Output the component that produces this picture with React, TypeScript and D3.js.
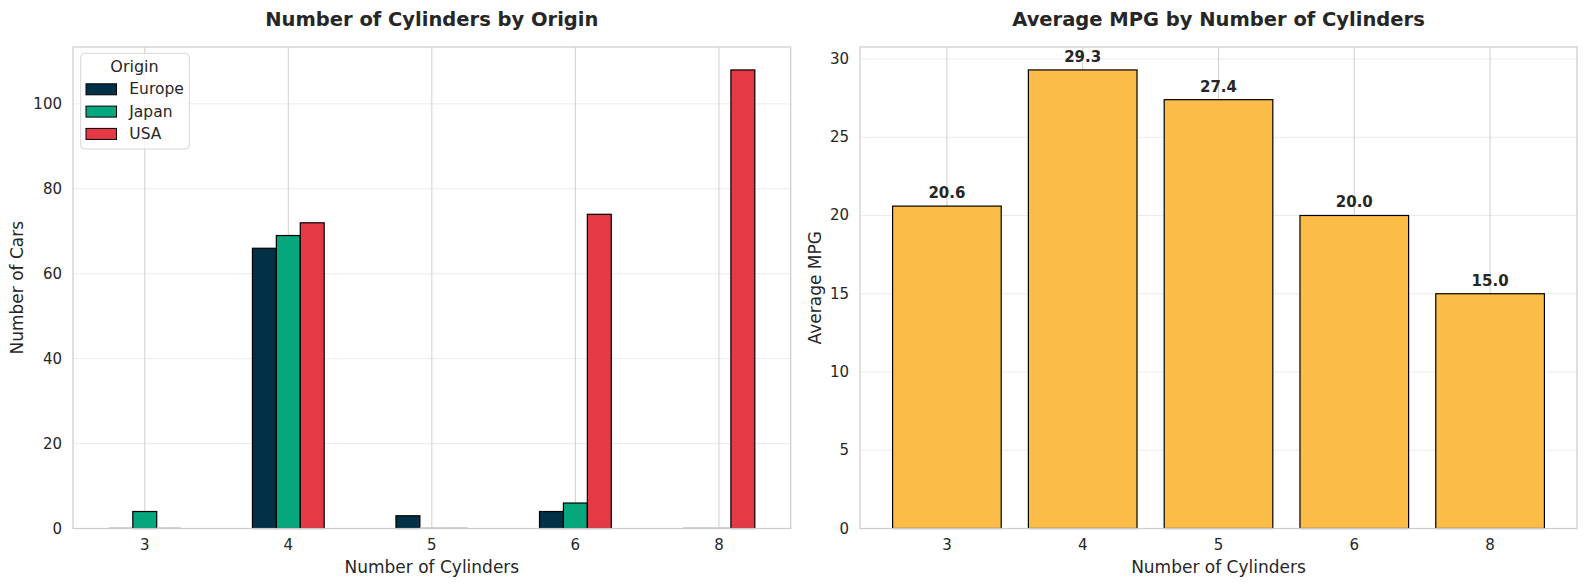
import * as d3 from "d3";

// ---- data ----
const cylinders = ["3", "4", "5", "6", "8"];
const origins = ["Europe", "Japan", "USA"];
const europeCounts = [0, 66, 3, 4, 0];
const japanCounts = [4, 69, 0, 6, 0];
const usaCounts = [0, 72, 0, 74, 108];
const avgMpg = [20.6, 29.3, 27.4, 20.0, 15.0];
const countTicks = [0, 20, 40, 60, 80, 100];
const mpgTicks = [0, 5, 10, 15, 20, 25, 30];

const originColors = ["#023047", "#06a77d", "#e63946"];
const mpgColor = "#fbbc48";

const WIDTH = 1587;
const HEIGHT = 587;
const FONT = "DejaVu Sans, sans-serif";
const TEXT = "#262626";
const SPINE = "#cccccc";

const TOP = 47;
const BOTTOM = 528.5;
const LEFT_AX = [73, 790.7];
const RIGHT_AX = [860, 1577];

const countSeries = [europeCounts, japanCounts, usaCounts];

const Axes = ({
  x0,
  x1,
  yScale,
  yTicks,
  xPos,
  title,
  yLabel,
  yLabelX,
}: {
  x0: number;
  x1: number;
  yScale: d3.ScaleLinear<number, number>;
  yTicks: number[];
  xPos: number[];
  title: string;
  yLabel: string;
  yLabelX: number;
}) => (
  <g fontFamily={FONT} fill={TEXT}>
    {/* horizontal grid (faint) */}
    {yTicks.map((t) => (
      <line
        key={"h" + t}
        x1={x0}
        x2={x1}
        y1={yScale(t)}
        y2={yScale(t)}
        stroke="#ebebeb"
        strokeWidth={1}
      />
    ))}
    {/* vertical grid */}
    {xPos.map((x, i) => (
      <line key={"v" + i} x1={x} x2={x} y1={TOP} y2={BOTTOM} stroke="#d0d0d0" strokeWidth={1} />
    ))}
    {yTicks.map((t) => (
      <text
        key={"yt" + t}
        x={x0 - 11}
        y={yScale(t)}
        textAnchor="end"
        dominantBaseline="central"
        fontSize={15}
      >
        {t}
      </text>
    ))}
    {xPos.map((x, i) => (
      <text key={"xt" + i} x={x} y={550} textAnchor="middle" fontSize={15}>
        {cylinders[i]}
      </text>
    ))}
    <text x={(x0 + x1) / 2} y={573} textAnchor="middle" fontSize={17}>
      Number of Cylinders
    </text>
    <text
      transform={`translate(${yLabelX}, ${(TOP + BOTTOM) / 2}) rotate(-90)`}
      textAnchor="middle"
      fontSize={17}
    >
      {yLabel}
    </text>
    <text x={(x0 + x1) / 2} y={25.5} textAnchor="middle" fontSize={19.5} fontWeight="bold">
      {title}
    </text>
  </g>
);

export default function App() {
  // left: grouped counts
  const xL = d3.scaleLinear().domain([-0.5, 4.5]).range(LEFT_AX);
  const yL = d3.scaleLinear().domain([0, 108 * 1.05]).range([BOTTOM, TOP]);
  const barW = 0.5 / 3;

  // right: average mpg
  const xR = d3.scaleLinear().domain([-0.64, 4.64]).range(RIGHT_AX);
  const yR = d3.scaleLinear().domain([0, 29.3 * 1.05]).range([BOTTOM, TOP]);

  const idx = d3.range(cylinders.length);

  return (
    <svg
      width={WIDTH}
      height={HEIGHT}
      style={{ position: "absolute", left: 0, top: 0, background: "white" }}
    >
      <Axes
        x0={LEFT_AX[0]}
        x1={LEFT_AX[1]}
        yScale={yL}
        yTicks={countTicks}
        xPos={idx.map((i) => xL(i))}
        title="Number of Cylinders by Origin"
        yLabel="Number of Cars"
        yLabelX={23}
      />
      <Axes
        x0={RIGHT_AX[0]}
        x1={RIGHT_AX[1]}
        yScale={yR}
        yTicks={mpgTicks}
        xPos={idx.map((i) => xR(i))}
        title="Average MPG by Number of Cylinders"
        yLabel="Average MPG"
        yLabelX={821}
      />

      {/* grouped bars */}
      {countSeries.map((series, s) =>
        series.map((v, i) => {
          const left = xL(i + (s - 1) * barW - barW / 2);
          const right = xL(i + (s - 1) * barW + barW / 2);
          if (v === 0) {
            return (
              <line
                key={`z${s}-${i}`}
                x1={left}
                x2={right}
                y1={BOTTOM - 0.5}
                y2={BOTTOM - 0.5}
                stroke="#c4c4c4"
                strokeWidth={1.5}
              />
            );
          }
          return (
            <rect
              key={`b${s}-${i}`}
              x={left}
              y={yL(v)}
              width={right - left}
              height={BOTTOM - yL(v)}
              fill={originColors[s]}
              stroke="black"
              strokeWidth={1.2}
            />
          );
        })
      )}

      {/* mpg bars */}
      {avgMpg.map((v, i) => (
        <g key={"m" + i}>
          <rect
            x={xR(i - 0.4)}
            y={yR(v)}
            width={xR(i + 0.4) - xR(i - 0.4)}
            height={BOTTOM - yR(v)}
            fill={mpgColor}
            stroke="black"
            strokeWidth={1.2}
          />
          <text
            x={xR(i)}
            y={yR(v) - 8}
            textAnchor="middle"
            fontFamily={FONT}
            fontSize={15}
            fontWeight="bold"
            fill={TEXT}
          >
            {v.toFixed(1)}
          </text>
        </g>
      ))}

      {/* spines */}
      {[LEFT_AX, RIGHT_AX].map((ax, k) => (
        <rect
          key={"sp" + k}
          x={ax[0]}
          y={TOP}
          width={ax[1] - ax[0]}
          height={BOTTOM - TOP}
          fill="none"
          stroke={SPINE}
          strokeWidth={1.2}
        />
      ))}

      {/* legend */}
      <g fontFamily={FONT} fill={TEXT}>
        <rect
          x={80.7}
          y={53.3}
          width={108.6}
          height={95.7}
          rx={4}
          fill="white"
          fillOpacity={0.8}
          stroke="#d6d6d6"
        />
        <text x={134.5} y={72} textAnchor="middle" fontSize={16}>
          Origin
        </text>
        {origins.map((o, i) => (
          <g key={o} transform={`translate(0, ${89.3 + i * 22.3})`}>
            <rect x={86} y={-5.5} width={30.5} height={11} fill={originColors[i]} stroke="black" strokeWidth={1} />
            <text x={129.3} y={0} dominantBaseline="central" fontSize={15.5}>
              {o}
            </text>
          </g>
        ))}
      </g>
    </svg>
  );
}
